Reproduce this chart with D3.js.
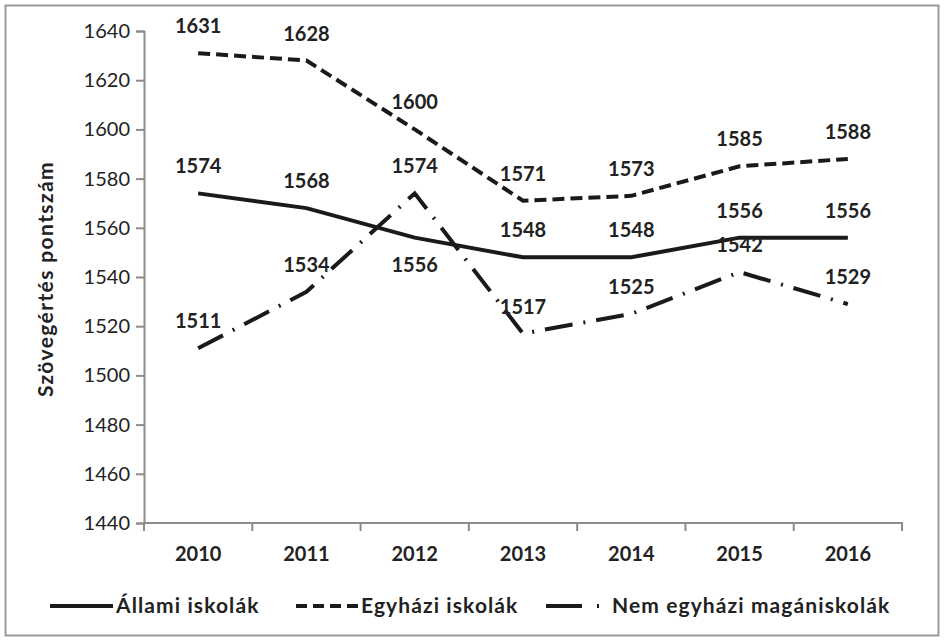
<!DOCTYPE html>
<html><head><meta charset="utf-8">
<script src="https://cdn.jsdelivr.net/npm/d3@7"></script>
<style>body{margin:0;background:#fff;} text{font-family:Lato,"Open Sans",sans-serif;fill:#222;}</style>
</head><body><svg id="c" width="945" height="641"></svg>
<script>
const years = ["2010","2011","2012","2013","2014","2015","2016"];
const allami = [1574,1568,1556,1548,1548,1556,1556];
const egyhazi = [1631,1628,1600,1571,1573,1585,1588];
const nemEgyhazi = [1511,1534,1574,1517,1525,1542,1529];
const yTicks = [1440,1460,1480,1500,1520,1540,1560,1580,1600,1620,1640];
const seriesNames = ["Állami iskolák","Egyházi iskolák","Nem egyházi magániskolák"];
const yTitle = "Szövegértés pontszám";

const svg = d3.select("#c");
svg.append("rect").attr("x",5.5).attr("y",5.5).attr("width",933).attr("height",630)
  .attr("fill","#fff").attr("stroke","#999").attr("stroke-width",2);

const x = d3.scaleBand().domain(years).range([144,902]);
const y = d3.scaleLinear().domain([1440,1640]).range([523,31]);
const cx = d => x(d) + x.bandwidth()/2;

const styles = [
  {dash:null},
  {dash:"12,6"},
  {dash:"28,11,2,11"}
];
const data = [allami, egyhazi, nemEgyhazi];

// axes
const yAx = svg.append("g").attr("transform","translate(144,0)")
  .call(d3.axisLeft(y).tickValues(yTicks).tickSize(8).tickPadding(6).tickFormat(d3.format("d")));
const xAx = svg.append("g").attr("transform","translate(0,523)")
  .call(d3.axisBottom(x).tickSize(0).tickPadding(24));
[yAx,xAx].forEach(g=>{
  g.select(".domain").attr("stroke","#8c8c8c").attr("stroke-width",2);
  g.selectAll(".tick line").attr("stroke","#8c8c8c").attr("stroke-width",2);
  g.selectAll("text").style("font-family","Lato").attr("fill","#222");
});
yAx.selectAll("text").attr("font-size",20);
xAx.selectAll("text").attr("font-size",20).attr("font-weight","bold");
xAx.select(".domain").attr("d","M144,0V0H902V8");
xAx.selectAll(".edge").data(years.map(v=>x(v)).concat([902])).enter().append("line")
  .attr("x1",d=>d).attr("x2",d=>d).attr("y1",0).attr("y2",8)
  .attr("stroke","#8c8c8c").attr("stroke-width",2);

svg.append("text").attr("transform","translate(53,279) rotate(-90)")
  .attr("text-anchor","middle").attr("font-size",21).attr("font-weight","bold")
  .attr("letter-spacing",1.4).text(yTitle);

const line = d3.line().x((d,i)=>cx(years[i])).y(d=>y(d));
data.forEach((s,k)=>{
  svg.append("path").attr("d",line(s)).attr("fill","none").attr("stroke","#1a1a1a")
    .attr("stroke-width",4).attr("stroke-dasharray",styles[k].dash).attr("stroke-linecap","butt");
});
data.forEach((s,k)=>{
  svg.selectAll(null).data(s).enter().append("text")
    .attr("x",(d,i)=>cx(years[i]))
    .attr("y",(d,i)=> (k===0 && i===2) ? y(d)+34 : y(d)-20)
    .attr("text-anchor","middle").attr("font-size",20).attr("font-weight","bold")
    .text(d=>d);
});

// legend
const ly = 606;
const leg = svg.append("g");
const lt = (xp,t)=>leg.append("text").attr("x",xp).attr("y",ly+7).attr("font-size",21)
  .attr("font-weight","bold").attr("letter-spacing",1.1).text(t);
leg.append("line").attr("x1",50).attr("x2",113).attr("y1",ly).attr("y2",ly).attr("stroke","#1a1a1a").attr("stroke-width",4);
lt(116,seriesNames[0]);
leg.append("line").attr("x1",296).attr("x2",358).attr("y1",ly).attr("y2",ly).attr("stroke","#1a1a1a").attr("stroke-width",4).attr("stroke-dasharray","11,6");
lt(361,seriesNames[1]);
leg.append("line").attr("x1",546).attr("x2",600).attr("y1",ly).attr("y2",ly).attr("stroke","#1a1a1a").attr("stroke-width",4).attr("stroke-dasharray","36,15,2,20");
lt(612,seriesNames[2]);
</script></body></html>
